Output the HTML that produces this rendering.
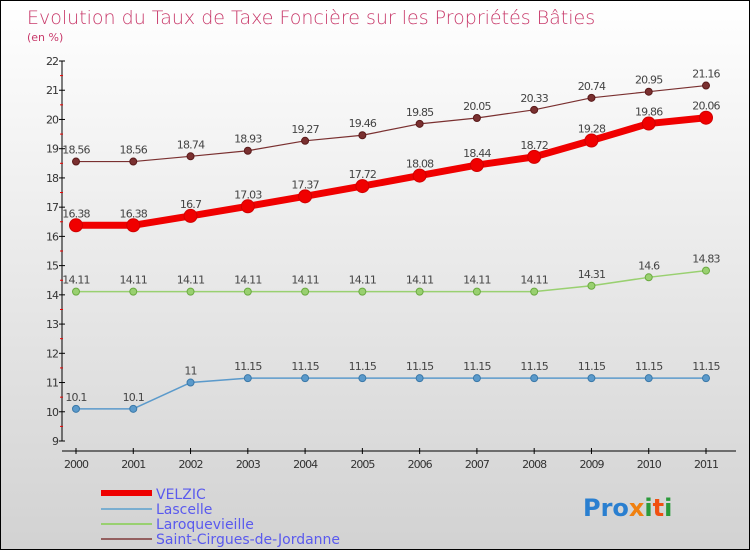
<!DOCTYPE html>
<html><head><meta charset="utf-8"><style>
body{margin:0}
#wrap{width:748px;height:548px;border:1px solid #000;background:linear-gradient(#ffffff,#d2d2d2);position:relative;overflow:hidden;font-family:"DejaVu Sans","Liberation Sans",sans-serif}
</style></head><body>
<div id="wrap">
<svg id="svg" width="748" height="548" style="position:absolute;left:0;top:0">
<text x="26" y="23" font-size="19" fill="#c8396a" font-family="DejaVu Sans" font-weight="200" style="font-weight:lighter">Evolution du Taux de Taxe Foncière sur les Propriétés Bâties</text>
<text x="26" y="40" font-size="11" fill="#c8396a">(en %)</text>
<g id="axes"></g><g id="series"></g>
<g>
<rect x="100" y="489" width="51" height="6" fill="#e00"/>
<text x="155" y="498" font-size="14" fill="#5a5aee">VELZIC</text>
<rect x="100" y="507" width="51" height="2" fill="#7aaed0"/>
<text x="155" y="513" font-size="14" fill="#5a5aee">Lascelle</text>
<rect x="100" y="522" width="51" height="2" fill="#99d070"/>
<text x="155" y="528" font-size="14" fill="#5a5aee">Laroquevieille</text>
<rect x="100" y="537" width="51" height="2" fill="#946060"/>
<text x="155" y="543" font-size="14" fill="#5a5aee">Saint-Cirgues-de-Jordanne</text>
</g>
<g font-size="24" font-weight="bold" font-family="DejaVu Sans">
<text x="582" y="515"><tspan fill="#2a7fd0">Pro</tspan><tspan fill="#f08010">x</tspan><tspan fill="#2a9a3a">i</tspan><tspan fill="#f05010">t</tspan><tspan fill="#2a9a3a">i</tspan></text>
</g>
</svg>
</div>
<script>
const years=[2000,2001,2002,2003,2004,2005,2006,2007,2008,2009,2010,2011];
const yTicks=[9,10,11,12,13,14,15,16,17,18,19,20,21,22];
const velzic=[16.38,16.38,16.7,17.03,17.37,17.72,18.08,18.44,18.72,19.28,19.86,20.06];
const lascelle=[10.1,10.1,11,11.15,11.15,11.15,11.15,11.15,11.15,11.15,11.15,11.15];
const laroque=[14.11,14.11,14.11,14.11,14.11,14.11,14.11,14.11,14.11,14.31,14.6,14.83];
const stcirgues=[18.56,18.56,18.74,18.93,19.27,19.46,19.85,20.05,20.33,20.74,20.95,21.16];
const NS="http://www.w3.org/2000/svg";
const x=i=>75+i*(630/11);
const y=v=>440-(v-9)*(380/13);
function mk(t,a,p){const e=document.createElementNS(NS,t);for(const k in a)e.setAttribute(k,a[k]);p.appendChild(e);return e;}
const ax=document.getElementById('axes');
const yl=mk('line',{x1:61,y1:60,x2:61,y2:440,stroke:'#000'},ax);


yTicks.forEach(v=>{
 mk('line',{x1:58,x2:64,y1:y(v),y2:y(v),stroke:'#000'},ax);
 if(v<22)mk('line',{x1:59,x2:62,y1:y(v+0.5),y2:y(v+0.5),stroke:'#e00'},ax);
 const t=mk('text',{x:57,y:y(v)+4,'font-size':11,fill:'#333','text-anchor':'end','letter-spacing':'-1'},ax);
 t.textContent=v;
 
 
});
const xl=mk('line',{x1:61,y1:450,x2:735,y2:450,stroke:'#000'},ax);


years.forEach((yr,i)=>{
 mk('line',{x1:x(i),x2:x(i),y1:447,y2:453,stroke:'#000'},ax);
 const t=mk('text',{x:x(i),y:467,'font-size':11,fill:'#333','text-anchor':'middle','letter-spacing':'-1'},ax);
 t.textContent=yr;
 
 
});
const sg=document.getElementById('series');
function series(d,name,col,w,r,stroke){
 const g=mk('g',{},sg);
 
 
 mk('polyline',{points:d.map((v,i)=>x(i)+','+y(v)).join(' '),fill:'none',stroke:col,'stroke-width':w,'stroke-linejoin':'round'},g);
 d.forEach((v,i)=>{
  const c=mk('circle',{cx:x(i),cy:y(v),r:r,fill:col,stroke:stroke,'stroke-width':1},g);
  
  
  const t=mk('text',{x:x(i),y:y(v)-8,'font-size':11,fill:'#444','text-anchor':'middle','letter-spacing':'-0.8'},g);
  t.textContent=v;
  
  
 });
}
series(lascelle,'lascelle','#5b9acb',1.5,3.5,'#3a78a8');
series(laroque,'laroquevieille','#99d070',1.5,3.5,'#6aaa40');
series(stcirgues,'saint-cirgues','#7a3030',1.2,3.5,'#5a1a1a');
series(velzic,'velzic','#f00000',7,6.5,'#d00000');
</script>
</body></html>
